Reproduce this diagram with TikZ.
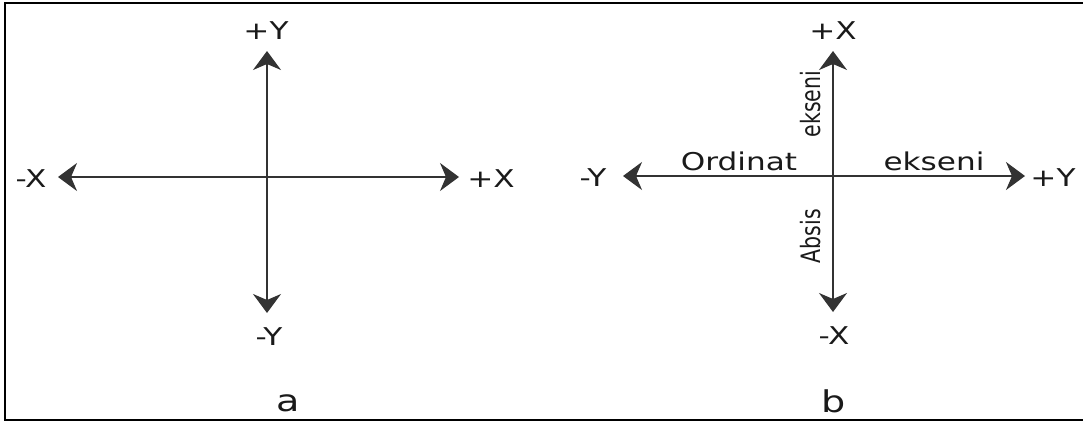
\documentclass[tikz,border=0pt]{standalone}
\usepackage{fontspec}
\usepackage{graphicx}
\setmainfont{DejaVu Sans}
\usetikzlibrary{arrows.meta}
\definecolor{axisgray}{HTML}{333333}
\definecolor{txt}{HTML}{1A1A1A}
\newcommand{\hstr}[1]{\scalebox{1.27}[1]{#1}}
\newcommand{\vstr}[1]{\scalebox{1}[1.3]{#1}}
\begin{document}
\begin{tikzpicture}[x=1pt,y=-1pt,
  tipk/.tip={Stealth[length=19pt,width=28pt,inset=6pt]},
  axis/.style={draw=axisgray, line width=1.8pt, tipk-tipk},
  lbl/.style={font=\fontsize{24.5}{28}\selectfont, text=txt, inner sep=0pt},
  panelcap/.style={font=\fontsize{30}{34}\selectfont, text=txt, inner sep=0pt},
  vlbl/.style={font=\fontsize{20.5}{25}\selectfont, text=txt, inner sep=0pt, rotate=90, anchor=base}]
\useasboundingbox (0,0) rectangle (1083,423);
\draw[line width=2pt] (1083,3) -- (5,3) -- (5,420) -- (1083,420);

% panel a
\coordinate (aT) at (267,51);
\coordinate (aB) at (267,313);
\coordinate (aL) at (58,177);
\coordinate (aR) at (459,177);
\draw[axis] (aL) -- (aR);
\draw[axis] (aB) -- (aT);
\node[lbl] (apy) at (266,31) {\hstr{+Y}};
\node[lbl] (amy) at (269,337) {\hstr{-Y}};
\node[lbl] (amx) at (31,179) {\hstr{-X}};
\node[lbl] (apx) at (491,179) {\hstr{+X}};
\node[panelcap] (la) at (288,403) {\hstr{a}};

% panel b
\coordinate (bT) at (833,51);
\coordinate (bB) at (833,312);
\coordinate (bL) at (623,176);
\coordinate (bR) at (1025,176);
\draw[axis] (bL) -- (bR);
\draw[axis] (bB) -- (bT);
\node[lbl] (bpx) at (833,31) {\hstr{+X}};
\node[lbl] (bmx) at (834,336) {\hstr{-X}};
\node[lbl] (bmy) at (593,178) {\hstr{-Y}};
\node[lbl] (bpy) at (1053,178) {\hstr{+Y}};
\node[lbl, anchor=base] (ord) at (739,170) {\hstr{Ordinat}};
\node[lbl, anchor=base] (eks1) at (934,170) {\hstr{ekseni}};
\node[vlbl] (eks2) at (820,104) {\vstr{ekseni}};
\node[vlbl] (abs) at (820,236) {\vstr{Absis}};
\node[panelcap] (lb) at (834,401) {\hstr{b}};
\end{tikzpicture}
\end{document}
